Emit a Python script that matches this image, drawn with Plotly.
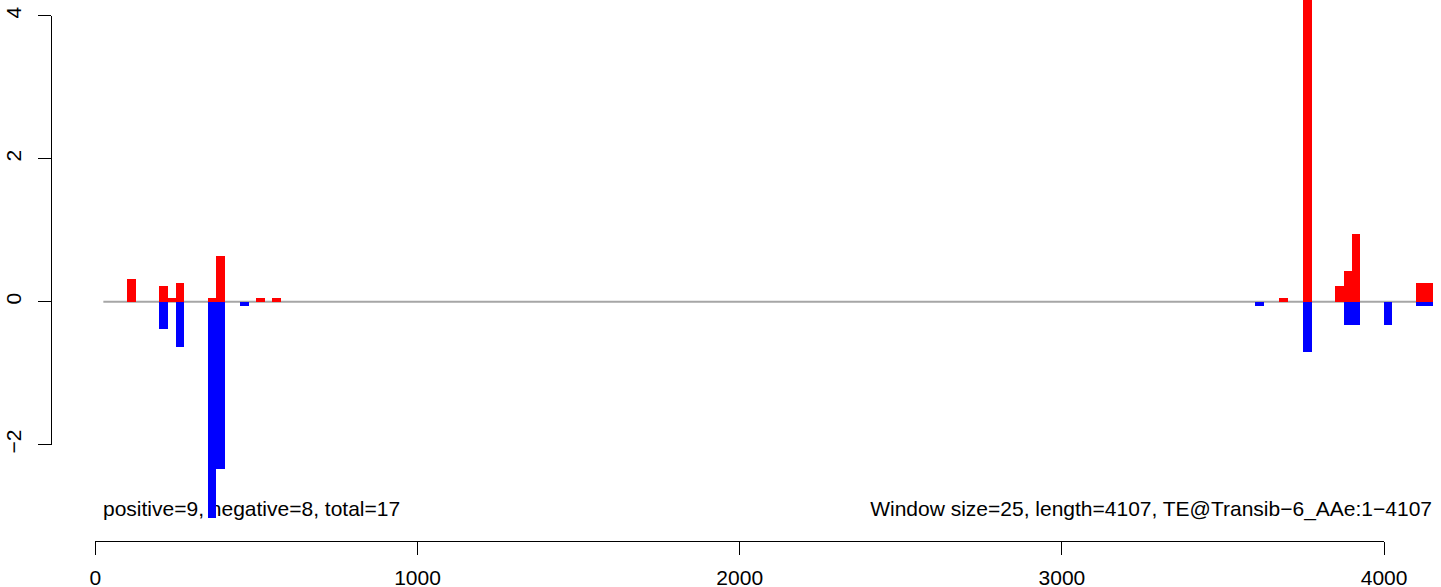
import plotly.graph_objects as go

# ---- data ----
window_size = 25
pos_starts = [100, 200, 225, 250, 350, 375, 500, 550, 3675, 3750, 3850, 3875, 3900, 4100, 4125]
pos_values = [0.32, 0.22, 0.05, 0.26, 0.05, 0.64, 0.05, 0.05, 0.05, 4.6, 0.22, 0.43, 0.95, 0.26, 0.26]
neg_starts = [200, 250, 350, 375, 450, 3600, 3750, 3875, 3900, 4000, 4100, 4125]
neg_values = [-0.38, -0.64, -3.02, -2.34, -0.06, -0.06, -0.70, -0.33, -0.33, -0.33, -0.06, -0.06]
baseline_x = [25, 4150]
x_ticks = [0, 1000, 2000, 3000, 4000]
y_ticks = [-2, 0, 2, 4]
left_label = "positive=9, negative=8, total=17"
right_label = "Window size=25, length=4107, TE@Transib\u22126_AAe:1\u22124107"

# ---- layout geometry (pixels of the 1441x587 window) ----
W, H = 1441, 587
OFF = 0                              # body margin removed by post_script
X0_PX, X_SCALE = 95.3, 0.3222        # window px of x=0, px per unit
Y0_PX, Y_SCALE = 301.7, 71.5         # window px of y=0, px per unit
FONT = "Liberation Sans, Arial, Helvetica, sans-serif"
FS = 21

def px_to_x(px):
    return (px - X0_PX) / X_SCALE

def py_to_y(py):
    return (Y0_PX - py) / Y_SCALE

def paper_x(px):
    return (px - OFF) / W

def paper_y(py):
    return 1 - (py - OFF) / H

xr = [px_to_x(OFF), px_to_x(OFF + W)]
yr = [py_to_y(OFF + H), py_to_y(OFF)]

pos_centers = [s + window_size / 2 for s in pos_starts]
neg_centers = [s + window_size / 2 for s in neg_starts]

fig = go.Figure()

# base subplot: zero line and texts (beneath the bars)
fig.add_trace(go.Scatter(x=baseline_x, y=[0, 0], mode="lines",
                         line=dict(color="#A6A6A6", width=2),
                         hoverinfo="skip", showlegend=False, xaxis="x", yaxis="y"))
fig.add_trace(go.Scatter(x=[px_to_x(103)], y=[py_to_y(511)], mode="text",
                         text=[left_label], textposition="middle right",
                         textfont=dict(family=FONT, size=FS, color="black"),
                         cliponaxis=False, hoverinfo="skip", showlegend=False,
                         xaxis="x", yaxis="y"))
fig.add_trace(go.Scatter(x=[px_to_x(1432)], y=[py_to_y(511)], mode="text",
                         text=[right_label], textposition="middle left",
                         textfont=dict(family=FONT, size=FS, color="black"),
                         cliponaxis=False, hoverinfo="skip", showlegend=False,
                         xaxis="x", yaxis="y"))

# overlaid subplot: bars
fig.add_trace(go.Bar(x=pos_centers, y=pos_values, width=27,
                     marker=dict(color="#FF0000", line=dict(width=0)),
                     hoverinfo="skip", showlegend=False, xaxis="x3", yaxis="y3"))
fig.add_trace(go.Bar(x=neg_centers, y=neg_values, width=27,
                     marker=dict(color="#0000FF", line=dict(width=0)),
                     hoverinfo="skip", showlegend=False, xaxis="x3", yaxis="y3"))

# axis-only subplot
fig.add_trace(go.Scatter(x=[None], y=[None], mode="markers", hoverinfo="skip",
                         showlegend=False, xaxis="x2", yaxis="y2"))

axis_common = dict(showline=True, linecolor="black", linewidth=1.3, ticks="outside",
                   ticklen=13, tickwidth=1.3, tickcolor="black", showgrid=False,
                   zeroline=False, automargin=False,
                   tickfont=dict(family=FONT, size=FS, color="black"))
hidden = dict(visible=False, automargin=False, fixedrange=True, showgrid=False, zeroline=False)

fig.update_layout(
    template="none",
    width=W, height=H,
    margin=dict(l=0, r=0, t=0, b=0, pad=0),
    paper_bgcolor="white", plot_bgcolor="rgba(0,0,0,0)",
    barmode="overlay", bargap=0, showlegend=False,
    xaxis=dict(domain=[0, 1], range=xr, **hidden),
    yaxis=dict(domain=[0, 1], range=yr, **hidden),
    xaxis3=dict(domain=[0, 1], range=xr, overlaying="x", anchor="y3", **hidden),
    yaxis3=dict(domain=[0, 1], range=yr, overlaying="y", anchor="x3", **hidden),
    xaxis2=dict(domain=[paper_x(X0_PX), paper_x(X0_PX + 4000 * X_SCALE)], range=[0, 4000],
                anchor="free", position=paper_y(540.7), side="bottom",
                tickvals=x_ticks, ticktext=[str(v) for v in x_ticks],
                ticklabelstandoff=5, **axis_common),
    yaxis2=dict(domain=[paper_y(Y0_PX + 2 * Y_SCALE), paper_y(Y0_PX - 4 * Y_SCALE)],
                range=[-2, 4], anchor="free", position=paper_x(50.7), side="left",
                tickvals=y_ticks, tickangle=-90, ticklabelstandoff=8, **axis_common),
)

fig.write_html(
    "out.html",
    config={"displayModeBar": False},
    post_script="document.body.style.margin='0px';document.body.style.overflow='hidden';",
)
